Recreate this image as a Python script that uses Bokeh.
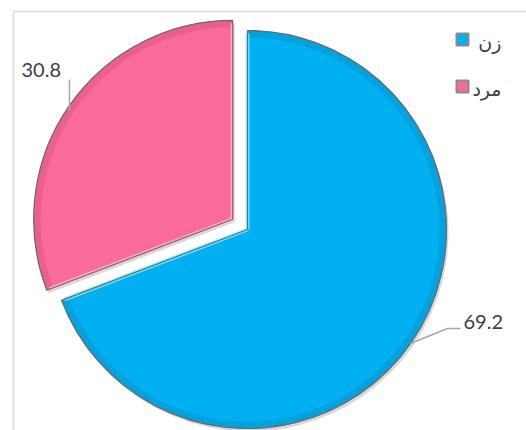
import numpy as np
from bokeh.plotting import figure
from bokeh.models import Range1d
from bokeh.core.properties import value
from bokeh.embed import file_html
from bokeh.resources import INLINE

# ---- data ----
categories = ["زن", "مرد"]
values = [69.2, 30.8]
labels = ["69.2", "30.8"]
colors = ["#00B0F0", "#FA6A9A"]
dark = ["#0A86BA", "#C94C78"]
highlights = ["#7FF3FF", "#FFC2D6"]

W, H = 526, 430
p = figure(width=W, height=H, output_backend="svg", toolbar_location=None,
           x_range=Range1d(0, W), y_range=Range1d(0, H), min_border=0)
p.axis.visible = False
p.grid.visible = False
p.outline_line_color = None
p.background_fill_color = "white"

# chart frame (left and top edges visible)
p.line(x=[13, 13, W + 20], y=[-20, 419, 419], line_color="#D9D9D9", line_width=1.5)

# pie geometry
cx, cy, r = 247, 201, 199
explode = [0, 18]
frac = np.array(values) / sum(values)
ends = np.pi / 2 - 2 * np.pi * np.cumsum(frac)
starts = np.concatenate([[np.pi / 2], ends[:-1]])
mids = (starts + ends) / 2

for i in range(len(values)):
    ox = cx + explode[i] * np.cos(mids[i])
    oy = cy + explode[i] * np.sin(mids[i])
    # shadow
    p.wedge(x=ox + 2, y=oy - 3, radius=r, start_angle=starts[i], end_angle=ends[i],
            direction="clock", fill_color="#7F7F7F", fill_alpha=0.3, line_color=None)
    p.wedge(x=ox, y=oy, radius=r, start_angle=starts[i], end_angle=ends[i],
            direction="clock", fill_color=colors[i], line_color=None)
    # darker bevel band along the arc
    p.annular_wedge(x=ox, y=oy, inner_radius=r - 7, outer_radius=r,
                    start_angle=starts[i], end_angle=ends[i], direction="clock",
                    fill_color=dark[i], fill_alpha=0.35, line_color=None)
    # light bevel along the straight edges
    for a in (starts[i], ends[i]):
        p.segment(x0=ox, y0=oy, x1=ox + (r - 3) * np.cos(a), y1=oy + (r - 3) * np.sin(a),
                  line_color=highlights[i], line_width=4, line_alpha=0.8)
    # outline
    p.wedge(x=ox, y=oy, radius=r, start_angle=starts[i], end_angle=ends[i],
            direction="clock", fill_color=None, line_color="#6A6A6A", line_width=1.2)

# data labels with leader lines
p.text(x=[463], y=[109], text=[labels[0]], text_font=value("Lato"), text_font_size="20px",
       text_color="#404040", text_baseline="alphabetic", text_align="left")
p.line(x=[460, 447, 410], y=[102, 102, 87], line_color="#A6A6A6", line_width=1.5)
p.text(x=[21], y=[361], text=[labels[1]], text_font=value("Lato"), text_font_size="20px",
       text_color="#404040", text_baseline="alphabetic", text_align="left")
p.line(x=[69, 69], y=[351, 320], line_color="#A6A6A6", line_width=1.5)

# legend
leg_y = [391, 344]
p.scatter(x=[462] * 2, y=leg_y, marker="square", size=12, fill_color=colors,
          line_color="#8C8C8C", line_width=2)
p.text(x=[501] * 2, y=[y - 2 for y in leg_y], text=categories, text_font=value("DejaVu Sans"),
       text_font_size="19px", text_color="#404040", text_baseline="middle", text_align="right")

open("out.html", "w").write(file_html(p, INLINE))
